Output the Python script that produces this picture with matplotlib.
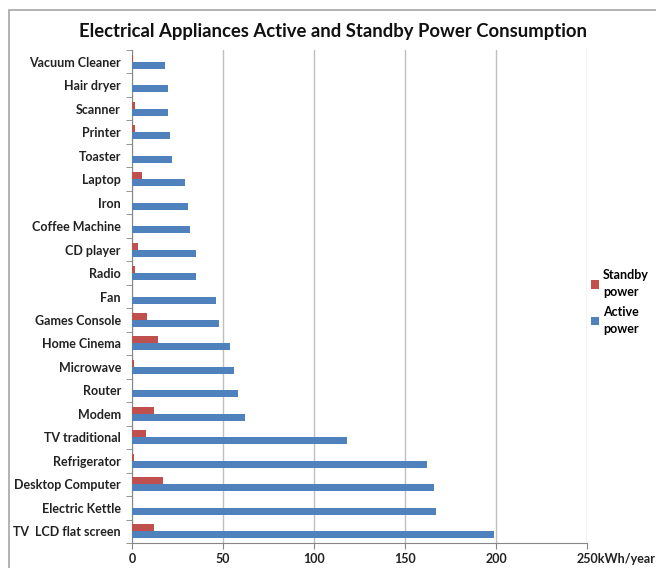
import numpy as np
import matplotlib.pyplot as plt
import matplotlib.transforms as mtransforms
from matplotlib.patches import Rectangle

# appliances listed bottom to top, as they appear on the axis
appliances = ['TV  LCD flat screen', 'Electric Kettle', 'Desktop Computer', 'Refrigerator',
              'TV traditional', 'Modem', 'Router', 'Microwave', 'Home Cinema', 'Games Console',
              'Fan', 'Radio', 'CD player', 'Coffee Machine', 'Iron', 'Laptop', 'Toaster',
              'Printer', 'Scanner', 'Hair dryer', 'Vacuum Cleaner']
active = [199, 167, 166, 162, 118, 62, 58, 56, 54, 48,
          46, 35, 35, 32, 31, 29, 22, 21, 20, 20, 18]
standby = [12, 0, 17, 1, 7.5, 12, 0, 1, 14.5, 8.5,
           0, 1.5, 3.5, 0, 0, 5.5, 0, 1.5, 1.5, 0, 0.7]
xticks = [0, 50, 100, 150, 200, 250]
xticklabels = ['0', '50', '100', '150', '200', '250kWh/year']

plt.rcParams['font.family'] = ['Lato', 'DejaVu Sans']

fig = plt.figure(figsize=(6.56, 5.68), dpi=100)
ax = fig.add_axes([132 / 656, 1 - 543 / 568, 455 / 656, 493 / 568])

# chart border
fig.patches.append(Rectangle((9 / 656, -0.1), 1.2, 1.1 - 10 / 568, transform=fig.transFigure,
                             fill=False, edgecolor='#a6a6a6', linewidth=1.2))

y = np.arange(len(appliances))
h = 0.3
ax.barh(y + h / 2, standby, height=h, color='#c0504d', label='Standby\npower', zorder=3)
ax.barh(y - h / 2, active, height=h, color='#4f81bd', label='Active\npower', zorder=3)

ax.set_xlim(0, 250)
ax.set_ylim(-0.5, len(appliances) - 0.5)
ax.set_xticks(xticks)
ax.set_xticklabels(xticklabels, fontsize=9, fontweight='bold', color='#222222')
ax.set_yticks(y)
ax.set_yticklabels(appliances, fontsize=9, fontweight='bold', color='#222222')
ax.set_yticks(np.arange(-0.5, len(appliances), 1), minor=True)
ax.tick_params(axis='y', which='major', length=0, pad=8)
ax.tick_params(axis='y', which='minor', length=4, color='#868686', direction='out')
ax.tick_params(axis='x', length=4, color='#868686', direction='out', pad=3)
ax.grid(axis='x', color='#bfbfbf', linewidth=1, zorder=0)

# the unit text trails the last number
last = ax.get_xticklabels()[-1]
last.set_horizontalalignment('left')
last.set_transform(last.get_transform() + mtransforms.ScaledTranslation(-10 / 100, 0, fig.dpi_scale_trans))

for side in ['top', 'right']:
    ax.spines[side].set_visible(False)
ax.spines['left'].set_color('#868686')
ax.spines['bottom'].set_color('#868686')

fig.text(333 / 656, 1 - 32 / 568, 'Electrical Appliances Active and Standby Power Consumption',
         ha='center', va='center', fontsize=13.3, fontweight='bold', color='#111111')

leg = ax.legend(loc='center left', bbox_to_anchor=(588 / 656, 1 - 302 / 568),
                bbox_transform=fig.transFigure, frameon=False,
                prop={'weight': 'bold', 'size': 9}, handlelength=0.7, handleheight=0.7,
                handletextpad=0.3, labelspacing=0.6, borderpad=0.2, borderaxespad=0)
for t in leg.get_texts():
    t.set_linespacing(1.5)

fig.savefig('out.png', dpi=100)
